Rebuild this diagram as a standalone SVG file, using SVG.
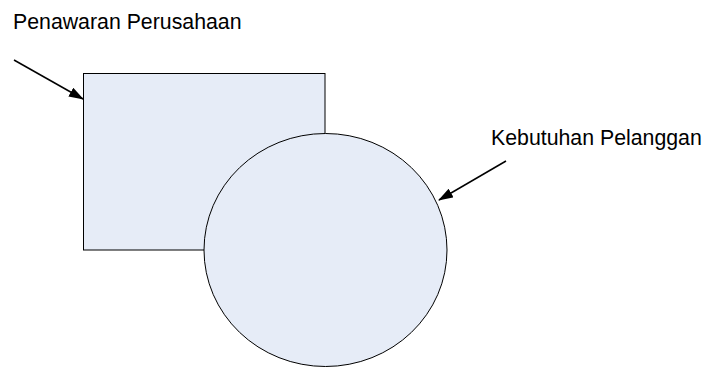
<svg xmlns="http://www.w3.org/2000/svg" width="705" height="367" viewBox="0 0 705 367">
<style>
.shape{fill:#E6ECF7;stroke:#000;stroke-width:1}
.lbl{font-family:"Liberation Sans",Arial,sans-serif;font-size:21.3px;fill:#000}
.conn{stroke:#000;stroke-width:1.5;fill:none;marker-end:url(#ah)}
</style>
<defs>
<marker id="ah" markerWidth="16" markerHeight="12" refX="14" refY="5" orient="auto" markerUnits="userSpaceOnUse" viewBox="0 0 16 12">
<path d="M0,0 L15,5 L0,10 Z" fill="#000"/>
</marker>
</defs>
<rect width="705" height="367" fill="#fff"/>
<g id="penawaran">
<rect class="shape" x="83.5" y="73.5" width="241.5" height="176.5" stroke="#404040"/>
<text class="lbl" x="13" y="29">Penawaran Perusahaan</text>
</g>
<g id="kebutuhan">
<ellipse class="shape" cx="325.5" cy="250" rx="121.5" ry="116.5"/>
<text class="lbl" x="491" y="145">Kebutuhan Pelanggan</text>
</g>
<g id="connectors">
<line class="conn" x1="14" y1="60" x2="83" y2="99"/>
<line class="conn" x1="506" y1="161" x2="439" y2="200"/>
</g>
</svg>
